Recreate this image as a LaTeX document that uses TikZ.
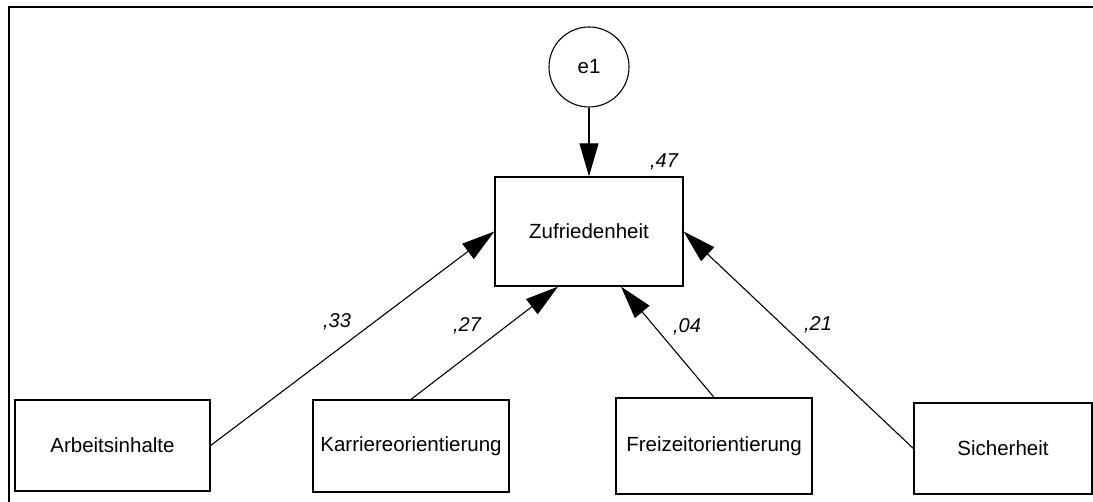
\documentclass[tikz,border=0pt]{standalone}
\usepackage{fontspec}
\setmainfont{Liberation Sans}
\usetikzlibrary{arrows.meta}

\tikzset{
  var/.style={draw,line width=1.3pt,minimum width=196pt,minimum height=92pt,inner sep=0pt,font=\fontsize{20.5}{24}\selectfont},
  fehler/.style={draw,circle,line width=1.1pt,minimum size=80pt,inner sep=0pt,font=\fontsize{20.5}{24}\selectfont},
  pfeil/.style={line width=1.1pt,-{Triangle[length=33pt,width=19pt]}},
  koeff/.style={font=\fontsize{20}{24}\selectfont\itshape}
}

\begin{document}
\begin{tikzpicture}[x=1pt,y=-1pt]
  \useasboundingbox (0,0) rectangle (1093,502);

  %枠線
  \begin{scope}
    \clip (0,0) rectangle (1093,502);
    \draw[line width=2.5pt] (9,7) rectangle (1110,520);
  \end{scope}

  %変数
  \node[fehler] (e1) at (589,67) {e1};
  \node[var,minimum width=188pt,minimum height=109pt] (zuf) at (589,231.5) {Zufriedenheit};
  \node[var,minimum width=195pt,minimum height=91pt] (arb) at (112.5,445.5) {Arbeitsinhalte};
  \node[var] (kar) at (411,446) {Karriereorientierung};
  \node[var,minimum height=96pt] (fre) at (714,446) {Freizeitorientierung};
  \node[var,minimum width=178pt,minimum height=91pt] (sic) at (1003,448.5) {Sicherheit};

  %パス
  \draw[pfeil] (e1) -- (zuf);
  \draw[pfeil] (arb.east) -- (zuf.west);
  \draw[pfeil] (kar.north) -- ([xshift=-31pt]zuf.south);
  \draw[pfeil] (fre.north) -- ([xshift=32pt]zuf.south);
  \draw[pfeil] (sic.west) -- (zuf.east);

  %係数
  \node[koeff] (r2) at (664,162) {,47};
  \node[koeff] (k1) at (337,322) {,33};
  \node[koeff] (k2) at (467,326) {,27};
  \node[koeff] (k3) at (687,327) {,04};
  \node[koeff] (k4) at (818,325) {,21};
\end{tikzpicture}
\end{document}
